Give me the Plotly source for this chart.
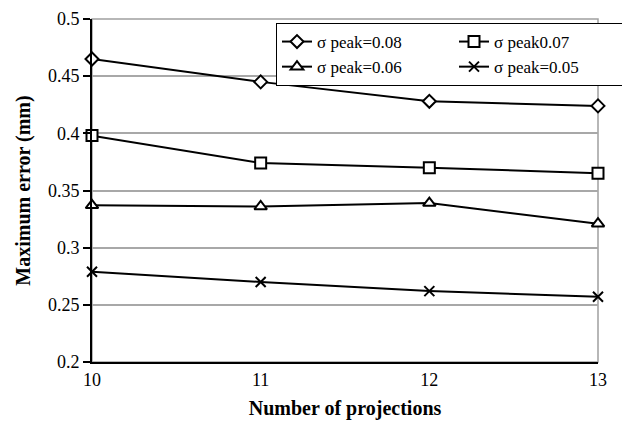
import plotly.graph_objects as go

projections = [10, 11, 12, 13]
sigma_008 = [0.465, 0.445, 0.428, 0.424]
sigma_007 = [0.398, 0.374, 0.370, 0.365]
sigma_006 = [0.337, 0.336, 0.339, 0.321]
sigma_005 = [0.279, 0.270, 0.262, 0.257]
names = ["σ peak=0.08", "σ peak0.07", "σ peak=0.06", "σ peak=0.05"]
y_ticks = [0.2, 0.25, 0.3, 0.35, 0.4, 0.45, 0.5]
y_tick_labels = ["0.2", "0.25", "0.3", "0.35", "0.4", "0.45", "0.5"]

FONT = "Liberation Serif, DejaVu Serif, serif"

series = [
    (sigma_008, "diamond", 10, "white"),
    (sigma_007, "square", 11, "white"),
    (sigma_006, "triangle-up", 11, "white"),
    (sigma_005, "x-thin", 10, "black"),
]

fig = go.Figure()
for (vals, sym, size, fill), name in zip(series, names):
    fig.add_trace(go.Scatter(
        x=projections, y=vals, name=name, mode="lines+markers",
        line=dict(color="black", width=2),
        marker=dict(symbol=sym, size=size, color=fill,
                    line=dict(color="black", width=2)),
        cliponaxis=False,
    ))

fig.add_shape(type="rect", xref="x domain", yref="y domain",
              x0=0, x1=1, y0=0, y1=1, layer="below",
              line=dict(color="#a0a0a0", width=1.5))

fig.update_layout(
    width=622, height=421,
    margin=dict(l=92, r=24, t=19, b=59, autoexpand=False),
    paper_bgcolor="white", plot_bgcolor="white",
    font=dict(family=FONT, size=18, color="black"),
    showlegend=True,
    legend=dict(
        orientation="h", x=(276 - 92) / 506, y=(362 - 23) / 343,
        xanchor="left", yanchor="top",
        entrywidth=132, entrywidthmode="pixels",
        bordercolor="black", borderwidth=1, bgcolor="white",
        font=dict(family=FONT, size=17, color="black"),
        tracegroupgap=0,
    ),
    xaxis=dict(
        range=[10, 13], tickvals=projections,
        showgrid=False, zeroline=False,
        showline=True, linecolor="black", linewidth=2,
        ticks="", tickfont=dict(size=18),
        title=dict(text="<b>Number of projections</b>", font=dict(size=20), standoff=12),
    ),
    yaxis=dict(
        range=[0.2, 0.5], tickvals=y_ticks, ticktext=y_tick_labels,
        showgrid=True, gridcolor="#a8a8a8", gridwidth=1.5, zeroline=False,
        showline=True, linecolor="black", linewidth=2,
        ticks="outside", ticklen=7, tickcolor="black", tickwidth=1.5,
        tickfont=dict(size=18),
        title=dict(text="<b>Maximum error (mm)</b>", font=dict(size=20), standoff=12),
    ),
)

fig.write_html("out.html")
